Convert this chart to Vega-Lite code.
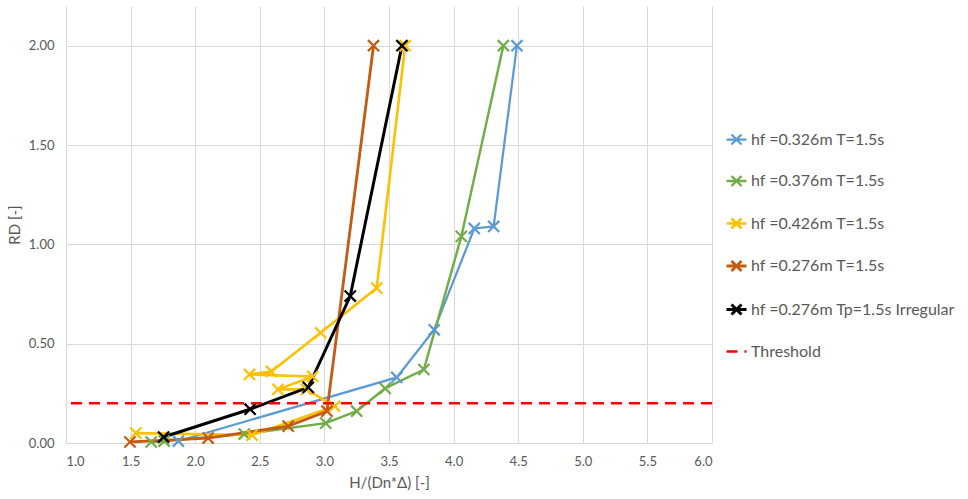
{
  "$schema": "https://vega.github.io/schema/vega-lite/v6.json",
  "width": 646,
  "height": 437,
  "autosize": {"type": "none"},
  "padding": {"left": 66, "top": 6, "right": 256, "bottom": 56},
  "background": "white",
  "config": {
    "font": "Lato",
    "view": {"stroke": null},
    "axis": {
      "gridColor": "#D9D9D9",
      "gridWidth": 1,
      "domainColor": "#D9D9D9",
      "domainWidth": 1,
      "ticks": false,
      "labelColor": "#595959",
      "labelFontSize": 13,
      "labelPadding": 12,
      "titleColor": "#595959",
      "titleFontSize": 15,
      "titleFontWeight": "normal",
      "titlePadding": 7
    }
  },
  "data": {
    "values": [
      {"series": "hf =0.326m T=1.5s", "i": 1, "x": 1.87, "y": 0.01},
      {"series": "hf =0.326m T=1.5s", "i": 2, "x": 3.56, "y": 0.33},
      {"series": "hf =0.326m T=1.5s", "i": 3, "x": 3.85, "y": 0.57},
      {"series": "hf =0.326m T=1.5s", "i": 4, "x": 4.16, "y": 1.08},
      {"series": "hf =0.326m T=1.5s", "i": 5, "x": 4.31, "y": 1.09},
      {"series": "hf =0.326m T=1.5s", "i": 6, "x": 4.49, "y": 2.0},
      {"series": "hf =0.376m T=1.5s", "i": 1, "x": 1.66, "y": 0.005},
      {"series": "hf =0.376m T=1.5s", "i": 2, "x": 1.76, "y": 0.01},
      {"series": "hf =0.376m T=1.5s", "i": 3, "x": 2.38, "y": 0.045},
      {"series": "hf =0.376m T=1.5s", "i": 4, "x": 3.01, "y": 0.1},
      {"series": "hf =0.376m T=1.5s", "i": 5, "x": 3.25, "y": 0.16},
      {"series": "hf =0.376m T=1.5s", "i": 6, "x": 3.47, "y": 0.275},
      {"series": "hf =0.376m T=1.5s", "i": 7, "x": 3.77, "y": 0.37},
      {"series": "hf =0.376m T=1.5s", "i": 8, "x": 4.06, "y": 1.04},
      {"series": "hf =0.376m T=1.5s", "i": 9, "x": 4.385, "y": 2.0},
      {"series": "hf =0.426m T=1.5s", "i": 1, "x": 1.54, "y": 0.05},
      {"series": "hf =0.426m T=1.5s", "i": 2, "x": 2.44, "y": 0.04},
      {"series": "hf =0.426m T=1.5s", "i": 3, "x": 3.08, "y": 0.185},
      {"series": "hf =0.426m T=1.5s", "i": 4, "x": 2.86, "y": 0.27},
      {"series": "hf =0.426m T=1.5s", "i": 5, "x": 2.64, "y": 0.27},
      {"series": "hf =0.426m T=1.5s", "i": 6, "x": 2.91, "y": 0.335},
      {"series": "hf =0.426m T=1.5s", "i": 7, "x": 2.42, "y": 0.345},
      {"series": "hf =0.426m T=1.5s", "i": 8, "x": 2.59, "y": 0.36},
      {"series": "hf =0.426m T=1.5s", "i": 9, "x": 2.97, "y": 0.555},
      {"series": "hf =0.426m T=1.5s", "i": 10, "x": 3.405, "y": 0.78},
      {"series": "hf =0.426m T=1.5s", "i": 11, "x": 3.625, "y": 2.0},
      {"series": "hf =0.276m T=1.5s", "i": 1, "x": 1.495, "y": 0.005},
      {"series": "hf =0.276m T=1.5s", "i": 2, "x": 2.1, "y": 0.025},
      {"series": "hf =0.276m T=1.5s", "i": 3, "x": 2.72, "y": 0.085},
      {"series": "hf =0.276m T=1.5s", "i": 4, "x": 3.02, "y": 0.16},
      {"series": "hf =0.276m T=1.5s", "i": 5, "x": 3.38, "y": 2.0},
      {"series": "hf =0.276m Tp=1.5s Irregular", "i": 1, "x": 1.755, "y": 0.03},
      {"series": "hf =0.276m Tp=1.5s Irregular", "i": 2, "x": 2.425, "y": 0.17},
      {"series": "hf =0.276m Tp=1.5s Irregular", "i": 3, "x": 2.875, "y": 0.28},
      {"series": "hf =0.276m Tp=1.5s Irregular", "i": 4, "x": 3.2, "y": 0.74},
      {"series": "hf =0.276m Tp=1.5s Irregular", "i": 5, "x": 3.6, "y": 2.0}
    ]
  },
  "layer": [
    {
      "mark": {"type": "line", "clip": true},
      "encoding": {
        "x": {"field": "x", "type": "quantitative", "scale": {"domain": [1, 6], "nice": false, "zero": false},
              "axis": {"values": [1, 1.5, 2, 2.5, 3, 3.5, 4, 4.5, 5, 5.5, 6], "format": ".1f", "title": "H/(Dn*Δ) [-]"}},
        "y": {"field": "y", "type": "quantitative", "scale": {"domain": [0, 2.2], "nice": false},
              "axis": {"values": [0, 0.5, 1, 1.5, 2], "format": ".2f", "title": "RD [-]", "titlePadding": 6}},
        "order": {"field": "i", "type": "quantitative"},
        "color": {
          "field": "series", "type": "nominal",
          "scale": {
            "domain": ["hf =0.326m T=1.5s", "hf =0.376m T=1.5s", "hf =0.426m T=1.5s", "hf =0.276m T=1.5s", "hf =0.276m Tp=1.5s Irregular"],
            "range": ["#5B9BD5", "#70AD47", "#FFC000", "#C55A11", "#000000"]
          },
          "legend": {
            "orient": "none", "legendX": 659, "legendY": 122, "title": null,
            "symbolType": "M-1,0L1,0M-0.5,-0.5L0.5,0.5M-0.5,0.5L0.5,-0.5",
            "symbolSize": 400, "symbolStrokeWidth": 2, "symbolFillColor": "transparent",
            "labelFont": "Lato", "labelFontSize": 16, "labelColor": "#595959", "labelLimit": 400,
            "rowPadding": 20.5, "labelOffset": 3, "padding": 0
          }
        },
        "strokeWidth": {
          "field": "series", "type": "nominal",
          "scale": {
            "domain": ["hf =0.326m T=1.5s", "hf =0.376m T=1.5s", "hf =0.426m T=1.5s", "hf =0.276m T=1.5s", "hf =0.276m Tp=1.5s Irregular"],
            "range": [2.25, 3, 2.25, 2.25, 2]
          },
          "legend": null
        }
      }
    },
    {
      "mark": {"type": "point", "shape": "M-1,-1L1,1M-1,1L1,-1", "filled": false, "size": 125, "strokeWidth": 2.2, "opacity": 1},
      "encoding": {
        "x": {"field": "x", "type": "quantitative"},
        "y": {"field": "y", "type": "quantitative"},
        "color": {"field": "series", "type": "nominal"}
      }
    },
    {
      "data": {"values": [{"label": "Threshold", "rd": 0.2}]},
      "mark": {"type": "rule", "strokeWidth": 2.5, "color": "#FF0000"},
      "encoding": {
        "y": {"field": "rd", "type": "quantitative"},
        "strokeDash": {
          "field": "label", "type": "nominal",
          "scale": {"domain": ["Threshold"], "range": [[11, 7]]},
          "legend": {
            "orient": "none", "legendX": 659, "legendY": 334, "title": null,
            "symbolType": "stroke", "symbolSize": 400, "symbolStrokeColor": "#FF0000",
            "symbolStrokeWidth": 2.5, "symbolDash": [8, 10],
            "labelFont": "Lato", "labelFontSize": 16, "labelColor": "#595959",
            "labelOffset": 3, "padding": 0
          }
        }
      }
    }
  ]
}
